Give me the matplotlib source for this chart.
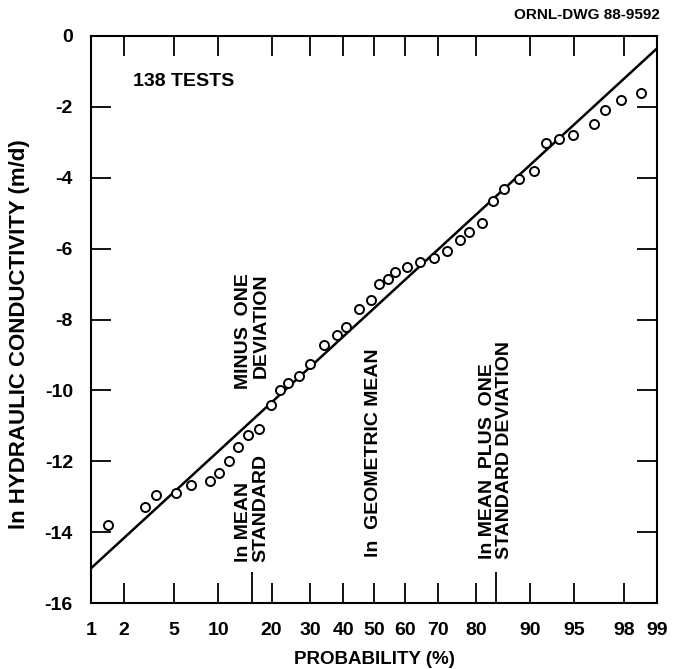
import matplotlib
matplotlib.use("Agg")
import matplotlib.pyplot as plt
import numpy as np
from statistics import NormalDist

plt.rcParams['font.family'] = ['Liberation Sans', 'DejaVu Sans']
plt.rcParams['font.weight'] = 'bold'
plt.rcParams['axes.unicode_minus'] = False

# Probability (%) and ln hydraulic conductivity (m/d)
prob = [1.43, 3.0, 3.66, 5.2, 6.6, 8.9, 10.2, 11.7, 13.2, 15.0, 17.3, 19.8, 22.0,
        23.9, 26.8, 29.9, 34.1, 38.0, 40.9, 45.2, 48.9, 51.8, 54.7, 57.0, 60.7,
        64.7, 69.0, 72.6, 76.1, 78.3, 81.3, 83.7, 85.7, 88.4, 90.6, 92.1, 93.6,
        94.9, 96.5, 97.1, 97.9, 98.6]
lnk = [-13.80, -13.30, -12.95, -12.89, -12.67, -12.56, -12.33, -11.98, -11.59,
       -11.25, -11.10, -10.40, -9.98, -9.78, -9.60, -9.25, -8.73, -8.43, -8.20,
       -7.71, -7.46, -7.00, -6.86, -6.67, -6.51, -6.39, -6.26, -6.07, -5.77,
       -5.54, -5.27, -4.66, -4.32, -4.04, -3.82, -3.02, -2.91, -2.79, -2.49,
       -2.09, -1.81, -1.61]

# fitted line end points
fit_prob = [1, 99]
fit_lnk = [-15.02, -0.35]

# mean - 1 sd, mean, mean + 1 sd
marker_prob = [15.87, 50, 84.13]

xticks = [1, 2, 5, 10, 20, 30, 40, 50, 60, 70, 80, 90, 95, 98, 99]
yticks = [0, -2, -4, -6, -8, -10, -12, -14, -16]

nd = NormalDist()


def fwd(p):
    p = np.clip(np.asarray(p, dtype=float), 1e-9, 100 - 1e-9)
    out = [nd.inv_cdf(v / 100.0) if np.isfinite(v) else np.nan for v in p.ravel()]
    return np.array(out, dtype=float).reshape(p.shape)


def inv(z):
    z = np.asarray(z, dtype=float)
    out = [nd.cdf(v) * 100.0 if np.isfinite(v) else np.nan for v in z.ravel()]
    return np.array(out, dtype=float).reshape(z.shape)


fig = plt.figure(figsize=(6.73, 6.69), dpi=100)
ax = fig.add_axes([91 / 673, 1 - 603 / 669, 566 / 673, 567 / 669])
ax.set_xscale('function', functions=(fwd, inv))

ax.plot(fit_prob, fit_lnk, color='black', lw=1.8)
ax.plot(prob, lnk, 'o', ms=6.5, mfc='white', mec='black', mew=1.4)

ax.set_xlim(1, 99)
ax.set_ylim(-16, 0)
ax.set_xticks(xticks)
ax.set_xticklabels([str(t) for t in xticks])
ax.set_xticks(marker_prob, minor=True)
ax.set_yticks(yticks)
ax.set_yticklabels([str(t) for t in yticks])

ax.tick_params(which='major', direction='in', length=14.4, width=1.3,
               top=True, right=True, labelsize=14)
ax.tick_params(axis='x', which='major', pad=14)
ax.tick_params(axis='y', which='major', pad=13)
ax.tick_params(axis='x', which='minor', direction='in', length=22.5, width=1.3,
               top=False, bottom=True)
for s in ax.spines.values():
    s.set_linewidth(1.5)

ax.set_xlabel('PROBABILITY (%)', fontsize=13.5, fontweight='bold', labelpad=8)
ax.set_ylabel('ln HYDRAULIC CONDUCTIVITY (m/d)', fontsize=16, fontweight='bold')
ax.yaxis.set_label_coords(-0.108, 0.475)

ax.text(0.074, 0.919, '138 TESTS', transform=ax.transAxes, fontsize=14,
        ha='left', va='center')

ax.text(marker_prob[0], -14.84, 'ln MEAN\nSTANDARD', rotation=90, fontsize=14,
        ha='center', va='bottom', multialignment='left', linespacing=1.0)
ax.text(marker_prob[0], -6.69, 'MINUS  ONE\nDEVIATION', rotation=90, fontsize=14,
        ha='center', va='top', multialignment='right', linespacing=1.0)
ax.text(marker_prob[1], -14.70, 'ln  GEOMETRIC MEAN', rotation=90, fontsize=14,
        ha='center', va='bottom')
ax.text(marker_prob[2], -14.75, 'ln MEAN  PLUS  ONE\nSTANDARD DEVIATION', rotation=90,
        fontsize=14, ha='center', va='bottom', multialignment='left', linespacing=1.0)

fig.text(0.981, 0.977, 'ORNL-DWG 88-9592', fontsize=11, ha='right', va='center')

fig.savefig('out.png', dpi=100)
